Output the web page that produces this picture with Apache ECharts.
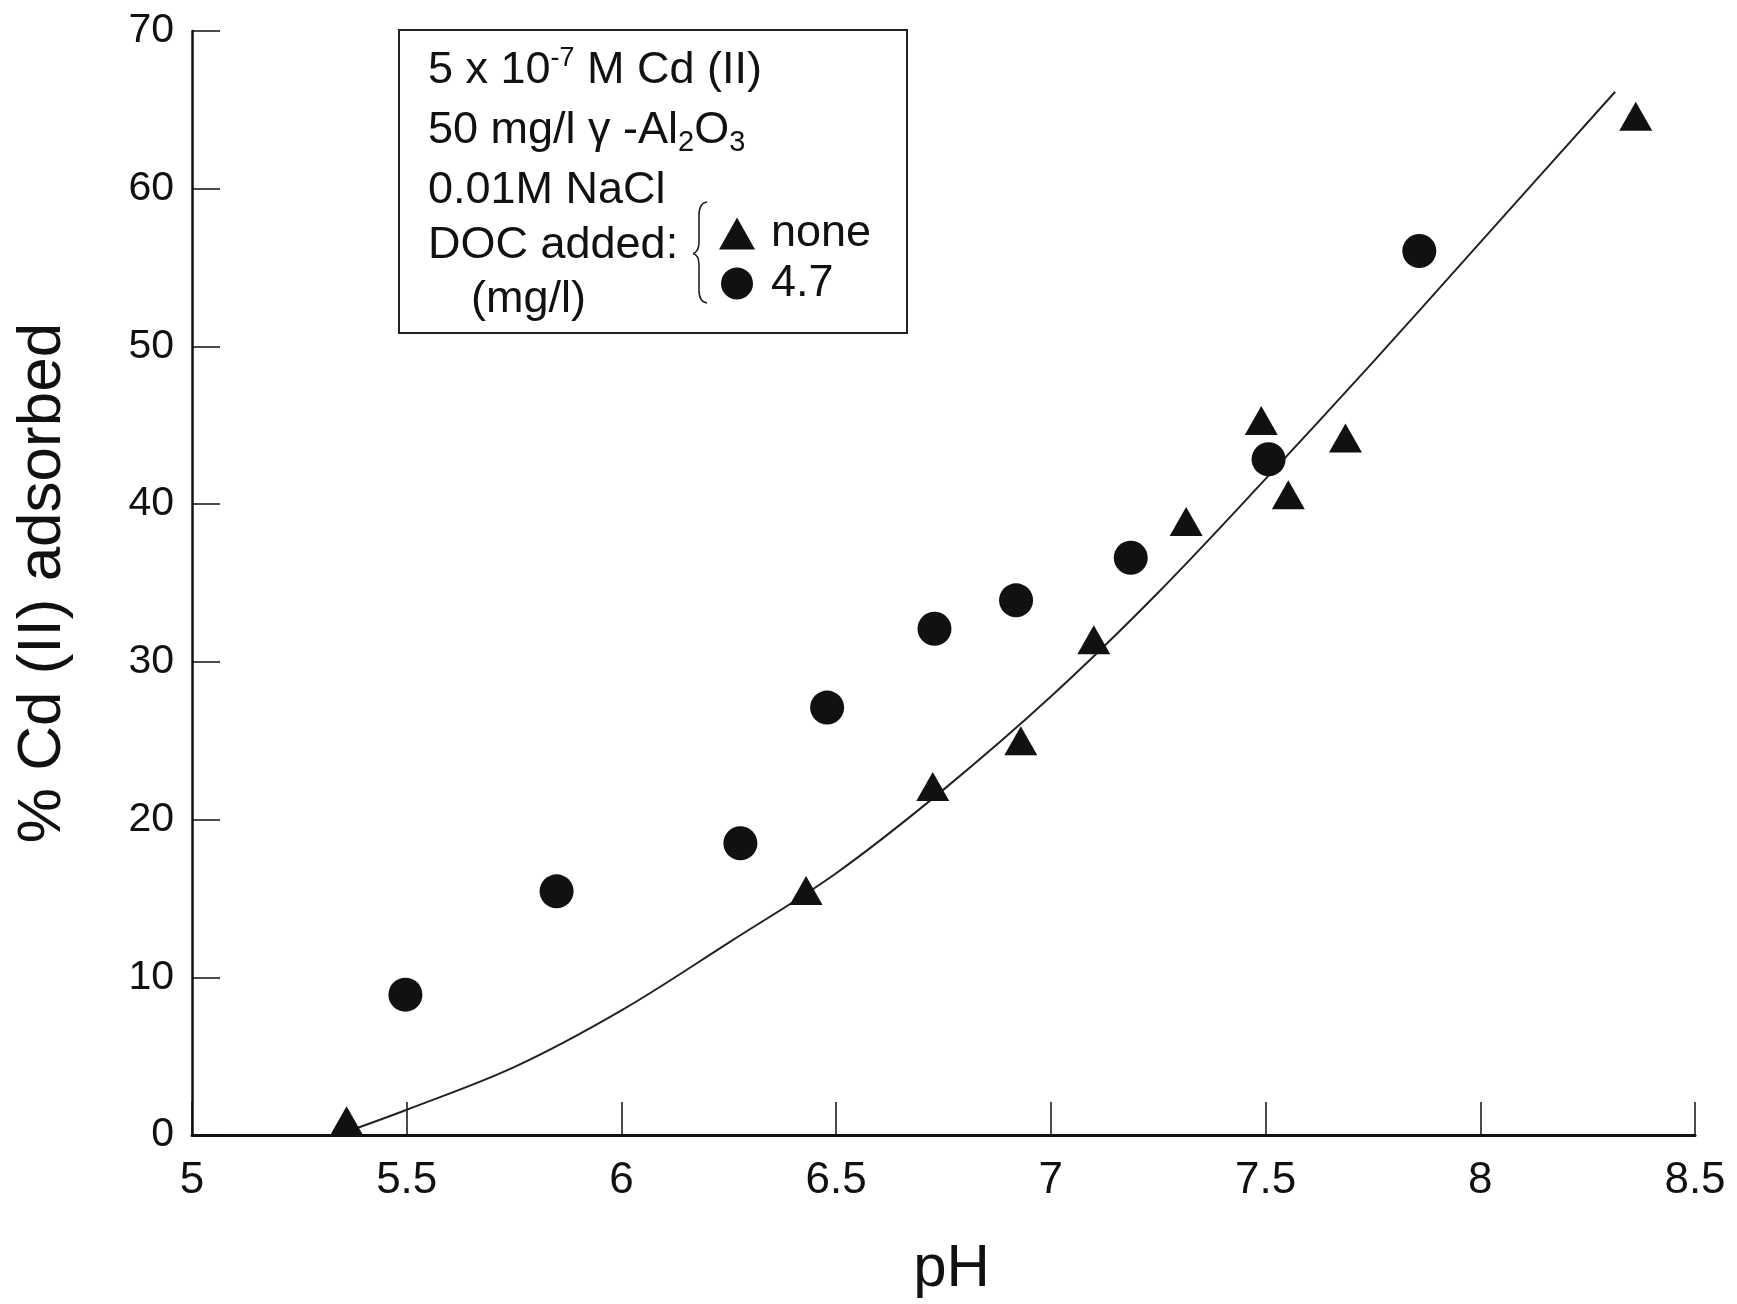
<!DOCTYPE html>
<html>
<head>
<meta charset="utf-8">
<script src="https://cdn.jsdelivr.net/npm/echarts/dist/echarts.min.js"></script>
<style>
  html, body { margin: 0; padding: 0; background: #fff; }
  #chart { width: 1737px; height: 1304px; }
</style>
</head>
<body>
<div id="chart"></div>
<script>
// ---- Data ----
// DOC added: none (triangles)
const noneX = [5.36, 6.43, 6.725, 6.93, 7.10, 7.315, 7.49, 7.553, 7.686, 8.362];
const noneY = [0.9, 15.5, 22.1, 25.0, 31.4, 38.9, 45.3, 40.6, 44.2, 64.6];
// DOC added: 4.7 mg/l (circles)
const docX = [5.497, 5.849, 6.277, 6.479, 6.729, 6.919, 7.186, 7.507, 7.858];
const docY = [8.9, 15.45, 18.5, 27.1, 32.1, 33.9, 36.6, 42.85, 56.05];
// fitted curve
const fitX = [5.37, 5.50, 5.75, 6.00, 6.25, 6.50, 6.75, 7.00, 7.25, 7.50, 7.75, 8.00, 8.314];
const fitY = [0.3, 1.6, 4.3, 7.9, 12.2, 16.6, 21.9, 27.8, 34.4, 41.6, 49.0, 56.6, 66.15];

const seriesNames = ['none', '4.7'];
const xTitle = 'pH';
const yTitle = '% Cd (II) adsorbed';

const zip = (xs, ys) => xs.map((x, i) => [x, ys[i]]);
const FONT = '"Liberation Sans", Arial, Helvetica, sans-serif';
const INK = '#111';
const braceStyle = { fill: 'none', stroke: '#222', lineWidth: 1.6 };

const chart = echarts.init(document.getElementById('chart'), null, { renderer: 'canvas' });

chart.setOption({
  animation: false,
  backgroundColor: '#fff',
  textStyle: { fontFamily: FONT, color: INK },
  grid: { left: 192, right: 42, top: 31, bottom: 168.5, containLabel: false },
  xAxis: {
    type: 'value', min: 5, max: 8.5, interval: 0.5,
    name: xTitle, nameLocation: 'middle', nameGap: 104,
    nameTextStyle: { fontSize: 60, fontFamily: FONT, color: INK, padding: [0, 0, 0, 16] },
    axisLine: { show: true, onZero: false, lineStyle: { color: INK, width: 3 } },
    axisTick: { show: true, inside: true, length: 33, lineStyle: { color: INK, width: 1.5 } },
    axisLabel: { fontSize: 44, fontFamily: FONT, color: INK, margin: 24 },
    splitLine: { show: false }
  },
  yAxis: {
    type: 'value', min: 0, max: 70, interval: 10,
    name: yTitle, nameLocation: 'middle', nameGap: 118, nameRotate: 90,
    nameTextStyle: { fontSize: 62, fontFamily: FONT, color: INK },
    axisLine: { show: true, onZero: false, lineStyle: { color: INK, width: 2.5 } },
    axisTick: { show: true, inside: true, length: 28, lineStyle: { color: INK, width: 1.5 } },
    axisLabel: { fontSize: 41, fontFamily: FONT, color: INK, margin: 18 },
    splitLine: { show: false }
  },
  legend: {
    data: seriesNames,
    orient: 'vertical',
    left: 714, top: 205,
    itemWidth: 36, itemHeight: 32, itemGap: 3,
    textStyle: { fontSize: 45, fontFamily: FONT, color: INK, lineHeight: 47, padding: [0, 0, 0, 11] },
    selectedMode: false
  },
  series: [
    {
      name: 'fit', type: 'line', data: zip(fitX, fitY),
      smooth: 0.35, showSymbol: false, symbol: 'none',
      lineStyle: { color: '#222', width: 2 }, z: 1, silent: true
    },
    {
      name: seriesNames[0], type: 'scatter', data: zip(noneX, noneY),
      symbol: 'triangle', symbolSize: [33, 29],
      itemStyle: { color: INK, opacity: 1 }, z: 3
    },
    {
      name: seriesNames[1], type: 'scatter', data: zip(docX, docY),
      symbol: 'circle', symbolSize: 34,
      itemStyle: { color: INK, opacity: 1 }, z: 3
    }
  ],
  graphic: [
    {
      type: 'rect', z: 0,
      shape: { x: 399, y: 30, width: 508, height: 303 },
      style: { fill: '#fff', stroke: '#222', lineWidth: 2 }
    },
    {
      type: 'text', z: 5, x: 428, y: 71,
      style: {
        text: '5 x 10{sup|-7} M Cd (II)',
        fontSize: 45, fontFamily: FONT, fill: INK, lineHeight: 52,
        verticalAlign: 'middle', align: 'left',
        rich: { sup: { fontSize: 27, fontFamily: FONT, fill: INK, verticalAlign: 'top', lineHeight: 40 } }
      }
    },
    {
      type: 'text', z: 5, x: 428, y: 131,
      style: {
        text: '50 mg/l \u03B3 -Al{sub|2}O{sub|3}',
        fontSize: 45, fontFamily: FONT, fill: INK, lineHeight: 52,
        verticalAlign: 'middle', align: 'left',
        rich: { sub: { fontSize: 29, fontFamily: FONT, fill: INK, verticalAlign: 'bottom', lineHeight: 33 } }
      }
    },
    {
      type: 'text', z: 5, x: 428, y: 191,
      style: { text: '0.01M NaCl', fontSize: 45, fontFamily: FONT, fill: INK, verticalAlign: 'middle', align: 'left' }
    },
    {
      type: 'text', z: 5, x: 428, y: 246,
      style: { text: 'DOC added:', fontSize: 45, fontFamily: FONT, fill: INK, verticalAlign: 'middle', align: 'left' }
    },
    {
      type: 'text', z: 5, x: 471, y: 300,
      style: { text: '(mg/l)', fontSize: 45, fontFamily: FONT, fill: INK, verticalAlign: 'middle', align: 'left' }
    },
    // brace
    { type: 'bezierCurve', z: 5, shape: { x1: 707, y1: 202, cpx1: 699, cpy1: 203, x2: 699, y2: 215 }, style: braceStyle },
    { type: 'line', z: 5, shape: { x1: 699, y1: 215, x2: 699, y2: 242 }, style: braceStyle },
    { type: 'bezierCurve', z: 5, shape: { x1: 699, y1: 242, cpx1: 699, cpy1: 252, x2: 693, y2: 253.5 }, style: braceStyle },
    { type: 'bezierCurve', z: 5, shape: { x1: 693, y1: 253.5, cpx1: 699, cpy1: 255, x2: 699, y2: 265 }, style: braceStyle },
    { type: 'line', z: 5, shape: { x1: 699, y1: 265, x2: 699, y2: 290 }, style: braceStyle },
    { type: 'bezierCurve', z: 5, shape: { x1: 699, y1: 290, cpx1: 699, cpy1: 302, x2: 707, y2: 303 }, style: braceStyle }
  ]
});
</script>
</body>
</html>
